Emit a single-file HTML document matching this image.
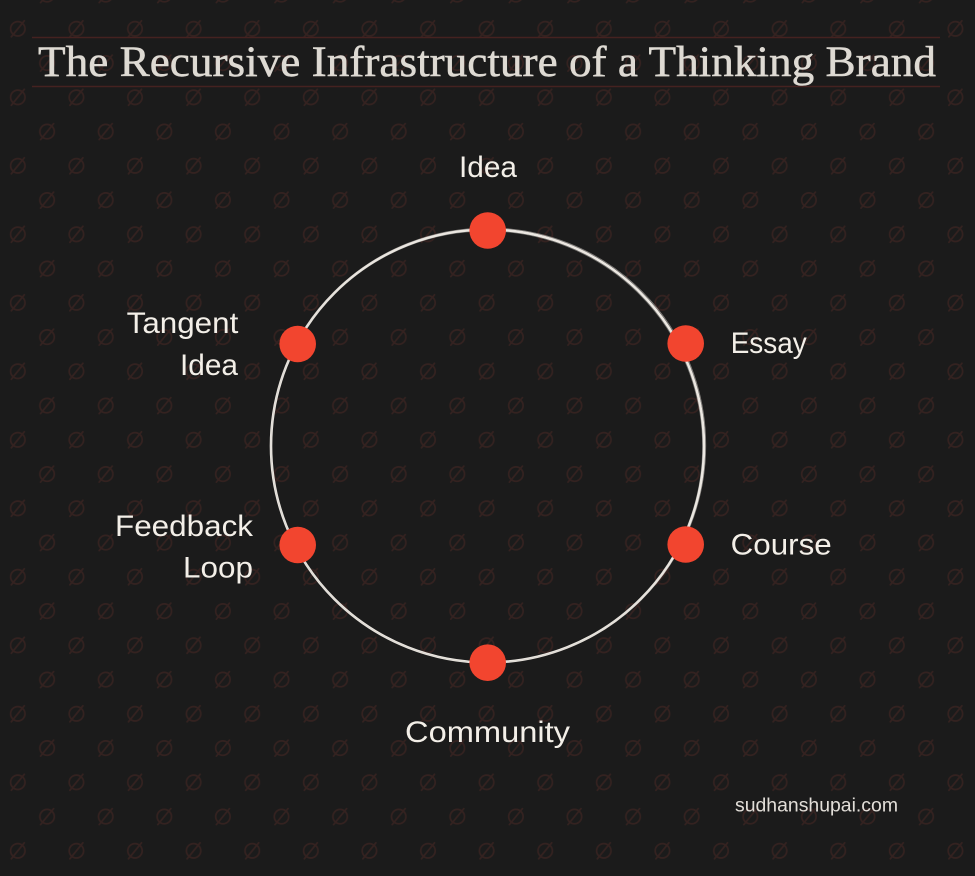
<!DOCTYPE html>
<html>
<head>
<meta charset="utf-8">
<style>
  html, body { margin: 0; padding: 0; background: #1b1b1b; }
  body { width: 975px; height: 876px; overflow: hidden; }
  svg { display: block; }
  .lbl { font-family: "Liberation Sans", "DejaVu Sans", sans-serif; font-size: 30px; fill: #f3efe8; }
</style>
</head>
<body>
<svg width="975" height="876" viewBox="0 0 975 876" xmlns="http://www.w3.org/2000/svg">
  <defs>
    <g id="sym">
      <circle cx="0" cy="0" r="7.2" fill="none" stroke="#342220" stroke-width="1.7"/>
      <line x1="-6.5" y1="8" x2="6.5" y2="-8" stroke="#342220" stroke-width="1.7" stroke-linecap="round"/>
    </g>
    <pattern id="pat" patternUnits="userSpaceOnUse" x="0" y="0" width="58.6" height="68.5">
      <use href="#sym" x="17.8" y="28.8"/>
      <use href="#sym" x="47.1" y="63.1"/>
      <use href="#sym" x="47.1" y="-5.4"/>
      <use href="#sym" x="-11.5" y="63.1"/>
      <use href="#sym" x="-11.5" y="-5.4"/>
    </pattern>
  </defs>

  <rect x="0" y="0" width="975" height="876" fill="#1b1b1b"/>
  <rect x="0" y="0" width="975" height="876" fill="url(#pat)"/>

  <!-- Title -->
  <line x1="32" y1="37.5" x2="940" y2="37.5" stroke="#452220" stroke-width="1.5"/>
  <line x1="32" y1="86.5" x2="940" y2="86.5" stroke="#452220" stroke-width="1.5"/>
  <text x="38" y="76" font-family="'Liberation Serif', 'DejaVu Serif', serif" font-size="43" fill="#dedad3" stroke="#dedad3" stroke-width="0.5" textLength="898" lengthAdjust="spacingAndGlyphs">The Recursive Infrastructure of a Thinking Brand</text>

  <!-- Sketchy circle -->
  <circle cx="487.5" cy="446" r="216.5" fill="none" stroke="#ebe7e1" stroke-width="2.6"/>
  <circle cx="488.3" cy="445.3" r="217.4" fill="none" stroke="#d8d4ce" stroke-width="0.9" opacity="0.55"/>
  <circle cx="486.8" cy="446.8" r="215.8" fill="none" stroke="#d8d4ce" stroke-width="0.8" opacity="0.45"/>

  <!-- Nodes -->
  <g fill="#f2452f">
    <circle cx="487.7" cy="230.5" r="18.3"/>
    <circle cx="685.7" cy="343.5" r="18.3"/>
    <circle cx="685.7" cy="544.5" r="18.3"/>
    <circle cx="487.7" cy="662.7" r="18.3"/>
    <circle cx="297.7" cy="545" r="18.3"/>
    <circle cx="297.7" cy="344" r="18.3"/>
  </g>

  <!-- Labels -->
  <text class="lbl" x="459" y="177" textLength="58" lengthAdjust="spacingAndGlyphs">Idea</text>
  <text class="lbl" x="730.7" y="353" textLength="76" lengthAdjust="spacingAndGlyphs">Essay</text>
  <text class="lbl" x="730.7" y="554.5" textLength="101" lengthAdjust="spacingAndGlyphs">Course</text>
  <text class="lbl" x="405" y="742" textLength="165" lengthAdjust="spacingAndGlyphs">Community</text>
  <text class="lbl" x="115" y="536" textLength="138" lengthAdjust="spacingAndGlyphs">Feedback</text>
  <text class="lbl" x="183" y="577.5" textLength="70" lengthAdjust="spacingAndGlyphs">Loop</text>
  <text class="lbl" x="126.7" y="333" textLength="111.6" lengthAdjust="spacingAndGlyphs">Tangent</text>
  <text class="lbl" x="180" y="375" textLength="58" lengthAdjust="spacingAndGlyphs">Idea</text>

  <!-- Footer -->
  <text x="735" y="811.7" font-family="'Liberation Sans', 'DejaVu Sans', sans-serif" font-size="19.5" fill="#e2ded8" textLength="163" lengthAdjust="spacingAndGlyphs">sudhanshupai.com</text>
</svg>
</body>
</html>
